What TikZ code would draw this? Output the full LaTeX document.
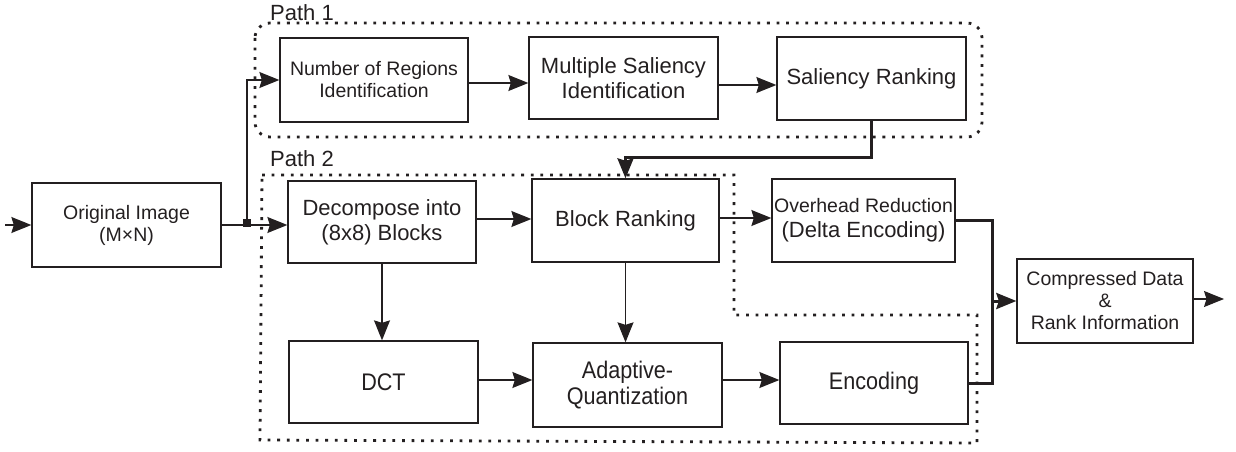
\documentclass[tikz,border=0pt]{standalone}
\usepackage{fontspec}
\setmainfont{Liberation Sans}
\newfontfamily\narrowfont[FakeStretch=0.9]{Liberation Sans}
\usetikzlibrary{arrows.meta,calc}
\definecolor{ink}{HTML}{231F20}
\begin{document}
\begin{tikzpicture}[x=1pt,y=-1pt,
  box/.style={draw=ink,line width=1.3pt,rectangle,inner sep=0pt,align=center,text=ink},
  sm/.style={font=\fontsize{19.5}{22}\selectfont},
  lg/.style={font=\fontsize{22}{25}\selectfont},
  nw/.style={font=\narrowfont\fontsize{24}{26}\selectfont},
  arr/.style={draw=ink,line width=1.3pt,-{Stealth[length=20pt,width=16pt,inset=2.5pt]}},
  thickln/.style={draw=ink,line width=3pt},
  thickarr/.style={thickln,-{Stealth[length=20pt,width=16pt,inset=2.5pt]}},
  dotline/.style={draw=ink,line width=2.8pt,dash pattern=on 2.8pt off 6.8pt},
  lbl/.style={text=ink,font=\fontsize{22}{25}\selectfont,inner sep=0pt,anchor=base west}]
\useasboundingbox (0,0) rectangle (1236,452);

% path regions
\draw[dotline,rounded corners=15pt] (255,23) rectangle (982,137);
\draw[dotline] (262,175) -- (734,175) -- (734,315) -- (977,315) -- (977,443) -- (260,440) -- cycle;
\node[lbl] (p1) at (270,21) {Path 1};
\node[lbl] (p2) at (270,166) {Path 2};

% nodes
\node[box,sm,minimum width=189pt,minimum height=84pt] (orig) at (126.5,225) {Original Image\\(M×N)};
\node[box,sm,minimum width=188pt,minimum height=84pt] (nri) at (374,80) {Number of Regions\\Identification};
\node[box,lg,minimum width=189pt,minimum height=82pt] (msi) at (623.5,78) {Multiple Saliency\\Identification};
\node[box,lg,minimum width=189pt,minimum height=83pt] (sr) at (871.5,78.5) {Saliency Ranking};
\node[box,lg,minimum width=188pt,minimum height=82pt] (dec) at (382,222) {Decompose into\\(8x8) Blocks};
\node[box,lg,minimum width=187pt,minimum height=83pt] (br) at (625.5,220.5) {Block Ranking};
\node[box,lg,minimum width=183pt,minimum height=83pt] (ohr) at (863.5,220.5) {{\fontsize{19.5}{22}\selectfont Overhead Reduction}\\(Delta Encoding)};
\node[box,sm,minimum width=176pt,minimum height=84pt] (cd) at (1105,301) {Compressed Data\\\&\\Rank Information};
\node[box,nw,minimum width=189pt,minimum height=82pt] (dct) at (383.5,382) {DCT};
\node[box,nw,minimum width=189pt,minimum height=84pt] (aq) at (627.5,385) {Adaptive-\\Quantization};
\node[box,nw,minimum width=188pt,minimum height=82pt] (enc) at (874,383) {Encoding};

% connectors
\coordinate (in) at (5,225);
\coordinate (out) at (1224,299);
\coordinate (j) at (247,223);
\coordinate (m) at (992,301);

\draw[arr] (in) -- (orig.west);
\draw[arr] (orig.east) -- (orig.east -| dec.west);
\fill[ink] ($(j)+(-4,-4)$) rectangle ($(j)+(4,4)$);
\draw[arr] (j) |- (nri.west);
\draw[arr] ($(nri.east)+(0,3)$) -- ($(msi.west)+(0,5)$);
\draw[arr] ($(msi.east)+(0,7)$) -- ($(sr.west)+(0,6.5)$);
\draw[thickarr] (sr.south) -- ++(0,37) -| (br.north);
\draw[arr] ($(dec.east)+(0,-3)$) -- ($(br.west)+(0,-1.5)$);
\draw[arr] ($(br.east)+(0,-2.5)$) -- ($(ohr.west)+(0,-2.5)$);
\draw[arr] (dec.south) -- (dec.south |- dct.north);
\draw[arr] (br.south) -- (br.south |- aq.north);
\draw[arr] ($(dct.east)+(0,-2)$) -- ($(aq.west)+(0,-5)$);
\draw[arr] ($(aq.east)+(0,-5)$) -- ($(enc.west)+(0,-3)$);
\draw[thickln] (ohr.east) -| (m |- enc.east) -- (enc.east);
\draw[thickarr] (m) -- (cd.west);
\draw[arr] (cd.east |- out) -- (out);
\end{tikzpicture}
\end{document}
